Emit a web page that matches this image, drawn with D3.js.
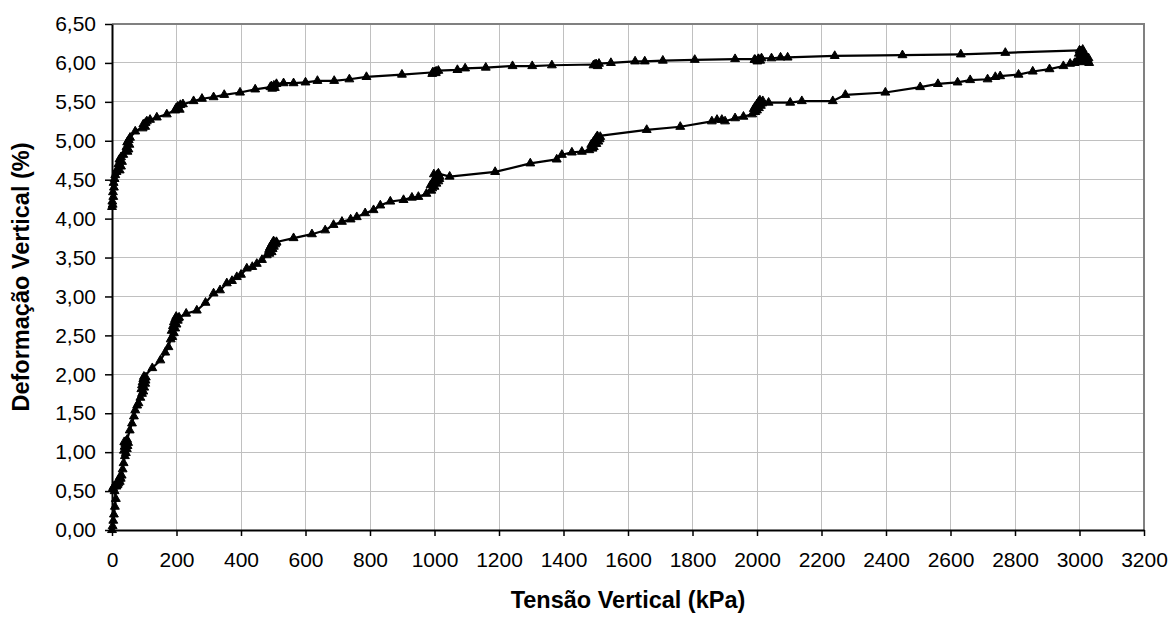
<!DOCTYPE html>
<html lang="pt-BR">
<head>
<meta charset="utf-8">
<title>Tensão Vertical x Deformação Vertical</title>
<script src="https://cdn.jsdelivr.net/npm/d3@7"></script>
<style>
  html, body { margin: 0; padding: 0; background: #fff; }
  svg { display: block; font-family: Arial, "Liberation Sans", sans-serif; }
</style>
</head>
<body>
<svg id="chart" width="1172" height="619"></svg>
<script>
// Ensaio de compressão: pares [tensão (kPa), deformação (%)]
const carregamento = [
  [0, 0.00], [2, 0.05], [4, 0.12], [6, 0.20], [9, 0.30], [12, 0.40], [8, 0.50], [3, 0.54], [6, 0.56], [10, 0.57],
  [14, 0.56], [17, 0.58], [20, 0.60], [24, 0.62], [21, 0.65], [27, 0.66], [24, 0.68], [30, 0.70], [33, 0.78], [36, 0.86],
  [40, 0.95], [43, 0.99], [37, 1.02], [46, 1.04], [39, 1.07], [48, 1.08], [41, 1.11], [50, 1.12], [44, 1.14], [38, 1.13],
  [47, 1.16], [55, 1.28], [62, 1.37], [68, 1.46], [72, 1.54], [78, 1.60], [82, 1.63], [88, 1.70], [93, 1.75], [97, 1.78],
  [91, 1.81], [100, 1.83], [93, 1.86], [103, 1.88], [95, 1.90], [104, 1.92], [97, 1.94], [105, 1.96], [99, 1.97], [125, 2.08],
  [150, 2.18], [165, 2.28], [175, 2.35], [182, 2.45], [187, 2.48], [192, 2.53], [185, 2.56], [196, 2.59], [189, 2.62], [200, 2.64],
  [192, 2.67], [204, 2.69], [196, 2.71], [206, 2.72], [199, 2.74], [208, 2.73], [230, 2.78], [263, 2.82], [290, 2.92], [315, 3.04],
  [335, 3.08], [356, 3.17], [372, 3.20], [387, 3.25], [400, 3.28], [418, 3.36], [435, 3.38], [449, 3.42], [465, 3.47], [480, 3.53],
  [488, 3.55], [495, 3.57], [487, 3.60], [498, 3.61], [490, 3.63], [502, 3.64], [494, 3.66], [506, 3.67], [497, 3.68], [509, 3.69],
  [501, 3.71], [510, 3.70], [563, 3.75], [620, 3.80], [661, 3.85], [687, 3.92], [713, 3.96], [740, 3.99], [759, 4.02], [785, 4.07],
  [811, 4.11], [832, 4.17], [863, 4.22], [904, 4.24], [930, 4.27], [950, 4.28], [975, 4.32], [990, 4.36], [993, 4.39], [1000, 4.41],
  [988, 4.43], [1006, 4.45], [995, 4.47], [1012, 4.48], [1000, 4.50], [1015, 4.51], [1004, 4.53], [1016, 4.54], [1008, 4.56], [998, 4.57],
  [1012, 4.58], [1047, 4.54], [1188, 4.60], [1297, 4.71], [1379, 4.76], [1395, 4.82], [1426, 4.85], [1457, 4.86], [1480, 4.88], [1490, 4.90],
  [1494, 4.92], [1486, 4.95], [1502, 4.96], [1492, 4.98], [1508, 4.99], [1497, 5.01], [1512, 5.02], [1502, 5.04], [1514, 5.05], [1505, 5.06],
  [1658, 5.14], [1762, 5.18], [1860, 5.25], [1876, 5.27], [1891, 5.27], [1901, 5.25], [1932, 5.29], [1958, 5.31], [1985, 5.34], [1995, 5.37],
  [2000, 5.39], [1990, 5.41], [2006, 5.42], [1995, 5.44], [2012, 5.45], [2000, 5.47], [2016, 5.48], [2005, 5.50], [2018, 5.51], [2009, 5.52],
  [2036, 5.49], [2103, 5.49], [2139, 5.51], [2235, 5.51], [2274, 5.59], [2398, 5.62], [2506, 5.69], [2561, 5.73], [2622, 5.75], [2661, 5.78],
  [2715, 5.79], [2739, 5.82], [2754, 5.83], [2811, 5.85], [2855, 5.89], [2907, 5.92], [2950, 5.96], [2971, 5.99], [2985, 6.00], [2995, 6.02],
  [3010, 6.01], [3022, 6.02], [3030, 6.00], [3005, 6.05], [3025, 6.04], [3015, 6.07], [3000, 6.08], [3020, 6.09], [3028, 6.06], [3008, 6.11],
  [2998, 6.12], [3012, 6.14], [3004, 6.15], [3010, 6.17], [3000, 6.16]
];

const descarregamento = [
  [2770, 6.13], [2632, 6.11], [2451, 6.10], [2241, 6.09], [2095, 6.07], [2073, 6.07], [2045, 6.06], [2014, 6.06], [2005, 6.05], [1994, 6.04],
  [2010, 6.03], [2001, 6.02], [1992, 6.04], [2004, 6.05], [1932, 6.05], [1807, 6.04], [1708, 6.03], [1652, 6.02], [1622, 6.02], [1547, 6.00],
  [1510, 5.99], [1502, 5.98], [1493, 5.97], [1506, 5.96], [1498, 5.98], [1364, 5.97], [1303, 5.96], [1242, 5.96], [1159, 5.94], [1095, 5.93],
  [1071, 5.91], [1012, 5.90], [1005, 5.89], [995, 5.88], [1004, 5.87], [993, 5.86], [1000, 5.88], [899, 5.85], [789, 5.82], [736, 5.79],
  [689, 5.77], [637, 5.77], [600, 5.75], [563, 5.74], [532, 5.74], [510, 5.73], [502, 5.71], [494, 5.70], [505, 5.68], [497, 5.67],
  [491, 5.69], [444, 5.66], [397, 5.62], [348, 5.59], [315, 5.56], [279, 5.54], [253, 5.51], [220, 5.47], [212, 5.46], [204, 5.44],
  [199, 5.42], [210, 5.40], [196, 5.39], [203, 5.41], [170, 5.34], [139, 5.30], [118, 5.27], [108, 5.25], [104, 5.23], [97, 5.21],
  [103, 5.18], [95, 5.16], [100, 5.19], [72, 5.12], [56, 5.04], [52, 5.01], [47, 4.98], [54, 4.95], [45, 4.92], [51, 4.89],
  [43, 4.87], [48, 4.86], [35, 4.82], [28, 4.79], [23, 4.76], [31, 4.73], [20, 4.70], [28, 4.67], [17, 4.64], [24, 4.62],
  [14, 4.60], [10, 4.56], [8, 4.51], [5, 4.46], [6, 4.40], [3, 4.34], [4, 4.28], [1, 4.22], [2, 4.18], [0, 4.15]
];

const xTicks = [0, 200, 400, 600, 800, 1000, 1200, 1400, 1600, 1800, 2000, 2200, 2400, 2600, 2800, 3000, 3200];
const yTicks = [0, 0.5, 1, 1.5, 2, 2.5, 3, 3.5, 4, 4.5, 5, 5.5, 6, 6.5];

const tituloX = "Tensão Vertical (kPa)";
const tituloY = "Deformação Vertical (%)";

// Sequência completa: carregamento seguido do descarregamento
const pontos = carregamento.concat(descarregamento).map(([t, d]) => ({ t, d }));

const W = 1172, H = 619;
const margin = { top: 24, right: 28, bottom: 89, left: 112 };

const svg = d3.select("#chart");

const x = d3.scaleLinear().domain([0, 3200]).range([margin.left, W - margin.right]);
const y = d3.scaleLinear().domain([0, 6.5]).range([H - margin.bottom, margin.top]);

const ptBR = d3.formatLocale({ decimal: ",", thousands: ".", grouping: [3], currency: ["R$", ""] });
const fmtY = ptBR.format(".2f");

// Grade
const grade = svg.append("g").attr("shape-rendering", "crispEdges");
grade.selectAll("line.gx")
  .data(xTicks.slice(1, -1))
  .join("line")
  .attr("x1", d => x(d)).attr("x2", d => x(d))
  .attr("y1", y(6.5)).attr("y2", y(0))
  .attr("stroke", "#c0c0c0").attr("stroke-width", 1);
grade.selectAll("line.gy")
  .data(yTicks.slice(1, -1))
  .join("line")
  .attr("x1", x(0)).attr("x2", x(3200))
  .attr("y1", d => y(d)).attr("y2", d => y(d))
  .attr("stroke", "#c0c0c0").attr("stroke-width", 1);

// Borda superior e direita da área de plotagem
svg.append("path")
  .attr("d", `M${x(0)},${y(6.5)}H${x(3200)}V${y(0)}`)
  .attr("fill", "none").attr("stroke", "#808080").attr("stroke-width", 2);

// Eixos
const eixoX = svg.append("g")
  .attr("transform", `translate(0,${y(0)})`)
  .call(d3.axisBottom(x).tickValues(xTicks).tickSize(6).tickSizeOuter(0).tickPadding(16).tickFormat(d3.format("d")));
const eixoY = svg.append("g")
  .attr("transform", `translate(${x(0)},0)`)
  .call(d3.axisLeft(y).tickValues(yTicks).tickSize(7).tickSizeOuter(0).tickPadding(9).tickFormat(fmtY));

[eixoX, eixoY].forEach(g => {
  g.select(".domain").attr("stroke", "#000").attr("stroke-width", 2);
  g.selectAll(".tick line").attr("stroke", "#000").attr("stroke-width", 1.5);
  g.selectAll(".tick text").attr("fill", "#000").attr("font-size", 21)
    .attr("font-family", "Arial, 'Liberation Sans', sans-serif");
});

// Curva tensão x deformação
const linha = d3.line().x(p => x(p.t)).y(p => y(p.d));
svg.append("path")
  .datum(pontos)
  .attr("d", linha)
  .attr("fill", "none")
  .attr("stroke", "#000")
  .attr("stroke-width", 2.2)
  .attr("stroke-linejoin", "round");

const triangulo = d3.symbol(d3.symbolTriangle, 34);
svg.append("g")
  .selectAll("path")
  .data(pontos)
  .join("path")
  .attr("d", triangulo)
  .attr("transform", p => `translate(${x(p.t)},${y(p.d)})`)
  .attr("fill", "#000")
  .attr("stroke", "#000")
  .attr("stroke-width", 1)
  .attr("stroke-linejoin", "round");

// Títulos dos eixos
svg.append("text")
  .attr("x", (x(0) + x(3200)) / 2)
  .attr("y", 608)
  .attr("text-anchor", "middle")
  .attr("font-size", 23.5)
  .attr("font-weight", "bold")
  .text(tituloX);

svg.append("text")
  .attr("transform", `translate(29,${(y(0) + y(6.5)) / 2}) rotate(-90)`)
  .attr("text-anchor", "middle")
  .attr("font-size", 23.5)
  .attr("font-weight", "bold")
  .text(tituloY);
</script>
</body>
</html>
